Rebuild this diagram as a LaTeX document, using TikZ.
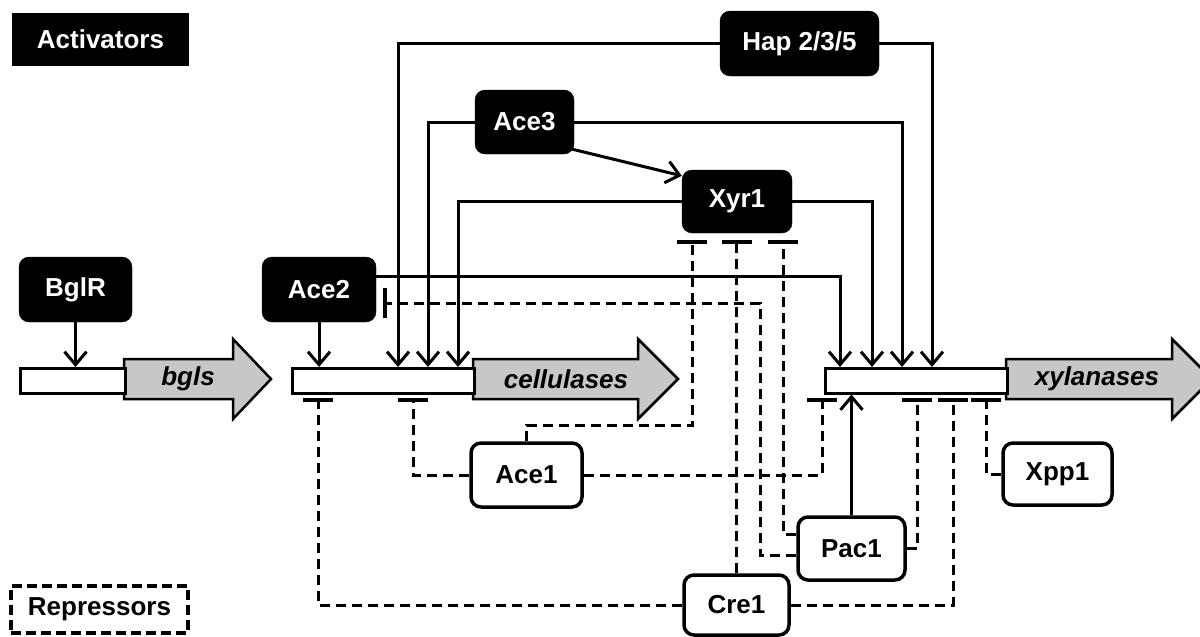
\documentclass[tikz,border=0pt]{standalone}
\usepackage{fontspec}
\setmainfont{Liberation Sans}
\usetikzlibrary{arrows.meta,calc}
\begin{document}
\begin{tikzpicture}[x=1pt,y=-1pt,
  font=\fontsize{26}{30}\selectfont\bfseries,
  actbox/.style={rectangle,rounded corners=10pt,fill=black,draw=black,text=white,inner sep=0pt},
  repbox/.style={rectangle,rounded corners=10pt,fill=white,draw=black,line width=3.5pt,text=black,inner sep=0pt},
  prom/.style={draw=black,fill=white,line width=2.5pt,inner sep=0pt,anchor=north west},
  gene/.style={draw=black,fill=black!22,line width=2.5pt},
  genelabel/.style={font=\fontsize{26}{30}\selectfont\bfseries\itshape,inner sep=0pt},
  actline/.style={line width=3pt,-{Straight Barb[length=13pt,width=22pt]}},
  repline/.style={line width=3pt,dash pattern=on 10pt off 6pt,-{Bar[width=30pt,line width=3.5pt]}},
]
\useasboundingbox (0,0) rectangle (1200,637);

% legend
\node[fill=black,text=white,minimum width=177pt,minimum height=53pt,inner sep=0pt] (act) at (100.5,39.5) {Activators};
\node[draw=black,line width=3.5pt,dash pattern=on 10pt off 5pt,minimum width=177pt,minimum height=47pt,inner sep=0pt] (rep) at (99.5,609.5) {Repressors};

% genes
\draw[gene] (124,359) -- (233,359) -- (233,339) -- (271,379) -- (233,419) -- (233,399) -- (124,399) -- cycle;
\node[prom,minimum width=105pt,minimum height=25pt] (bglp) at (19,367) {};
\node[genelabel] (bglsl) at (188,379) {bgls};

\draw[gene] (473,359) -- (638,359) -- (638,339) -- (678,379) -- (638,419) -- (638,399) -- (473,399) -- cycle;
\node[prom,minimum width=182pt,minimum height=25pt] (cellp) at (291,367) {};
\node[genelabel] (celll) at (566,379) {cellulases};

\draw[gene] (1006,359) -- (1172,359) -- (1172,339) -- (1212,379) -- (1172,419) -- (1172,399) -- (1006,399) -- cycle;
\node[prom,minimum width=182pt,minimum height=25pt] (xylp) at (824,367) {};
\node[genelabel] (xyll) at (1097,379) {xylanases};

% activator proteins
\node[actbox,minimum width=113pt,minimum height=65pt] (bglr) at (75.5,289.5) {BglR};
\node[actbox,minimum width=114pt,minimum height=65pt] (ace2) at (319,289.5) {Ace2};
\node[actbox,minimum width=99pt,minimum height=64pt] (ace3) at (524.5,122) {Ace3};
\node[actbox,minimum width=159pt,minimum height=65pt] (hap) at (799.5,43.5) {Hap 2/3/5};
\node[actbox,minimum width=110pt,minimum height=63pt] (xyr1) at (737,201.5) {Xyr1};

% repressor proteins
\node[repbox,minimum width=111pt,minimum height=64pt] (ace1) at (526.5,475) {Ace1};
\node[repbox,minimum width=105pt,minimum height=60pt] (cre1) at (736.5,605) {Cre1};
\node[repbox,minimum width=107pt,minimum height=63pt] (pac1) at (851.5,548.5) {Pac1};
\node[repbox,minimum width=109pt,minimum height=62pt] (xpp1) at (1057.5,474) {Xpp1};

% target points
\coordinate (cH) at (398,367); \coordinate (cA3) at (428,367); \coordinate (cX) at (458,367);
\coordinate (xA2) at (840,367); \coordinate (xX) at (872,367); \coordinate (xA3) at (902,367); \coordinate (xH) at (932,367);
\coordinate (cb1) at (318,398); \coordinate (cb2) at (413,398);
\coordinate (xb1) at (822,398); \coordinate (xb2) at (917,398); \coordinate (xb3) at (953,398); \coordinate (xb4) at (986,398);
\coordinate (yb1) at (692,240); \coordinate (yb2) at (737,240); \coordinate (yb3) at (783,240);
\coordinate (ab) at (383,303); \coordinate (pk) at (760,303);

% activation
\draw[actline] (bglr.south) -- (bglr.south |- bglp.north);
\draw[actline] (ace2.south) -- (ace2.south |- cellp.north);
\draw[actline] (hap.west) -| (cH);
\draw[actline] (hap.east) -| (xH);
\draw[actline] (ace3.west) -| (cA3);
\draw[actline] (ace3.east) -| (xA3);
\draw[actline] (xyr1.west) -| (cX);
\draw[actline] (xyr1.east) -| (xX);
\draw[actline] ([yshift=13.5pt]ace2.east) -| (xA2);
\draw[actline] ($(ace3.south east)+(-2,-5)$) -- ($(xyr1.north west)+(0,6)$);
\draw[actline] (pac1.north) -- (pac1.north |- xylp.south);

% repression
\draw[repline] (cre1.west) -| (cb1);
\draw[repline] (cre1.east) -| (xb3);
\draw[repline] (cre1.north) -- (cre1.north |- yb2);
\draw[repline] (ace1.west) -| (cb2);
\draw[repline] (ace1.east) -| (xb1);
\draw[repline] (ace1.north) -- ++(0,-16) -| (yb1);
\draw[repline] ([yshift=-6.5pt]pac1.west) -| (pk) -- (ab);
\draw[repline] ([yshift=14.5pt]pac1.west) -| (yb3);
\draw[repline] (pac1.east) -| (xb2);
\draw[repline] (xpp1.west) -| (xb4);
\end{tikzpicture}
\end{document}
